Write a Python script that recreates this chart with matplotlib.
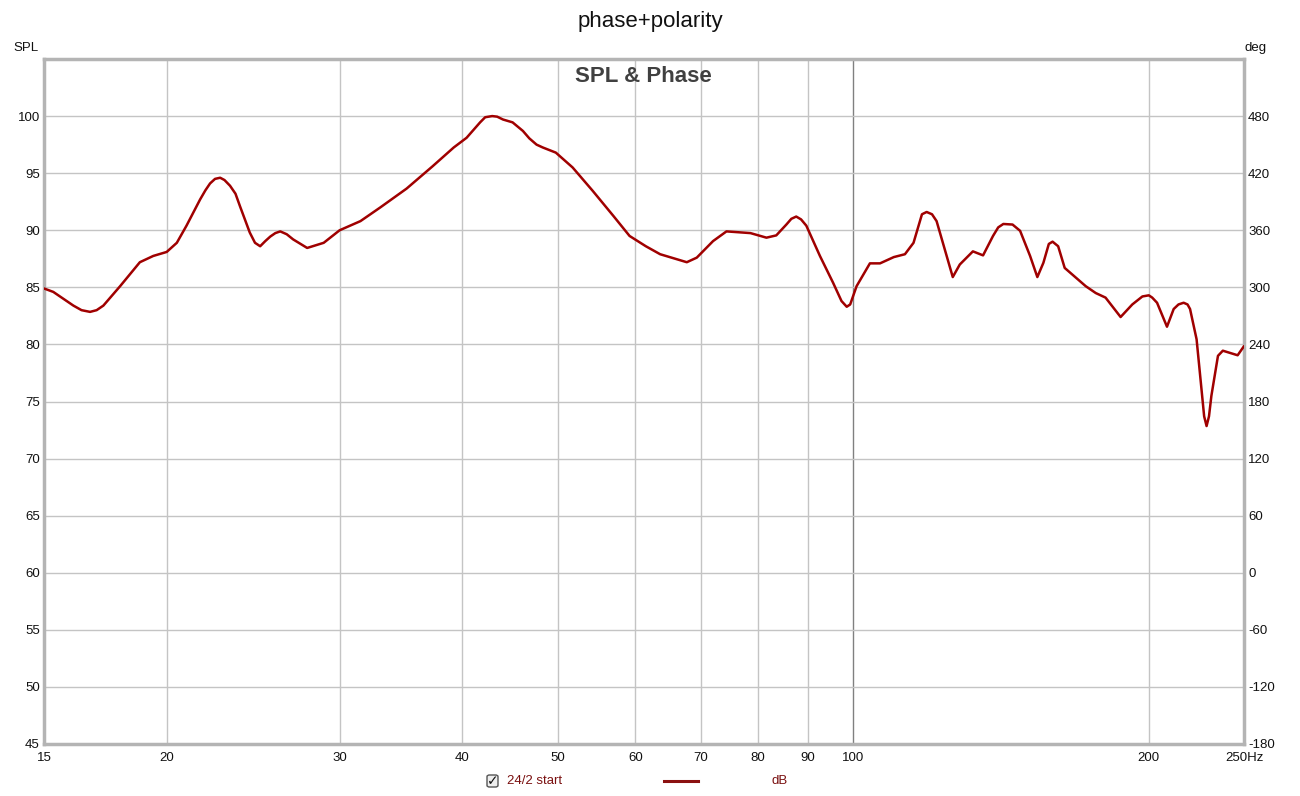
import matplotlib
matplotlib.use("Agg")
import matplotlib.pyplot as plt
from matplotlib.ticker import FixedLocator, FixedFormatter, NullLocator
from matplotlib.lines import Line2D
from matplotlib.patches import FancyBboxPatch

plt.rcParams["font.family"] = ["Liberation Sans", "DejaVu Sans"]

# ---- data ----
freq_hz = [15.0, 15.33, 16.07, 16.38, 16.71, 16.97, 17.24, 17.93, 18.78, 19.38,
           20.0, 20.48, 20.95, 21.63, 21.9, 22.14, 22.4, 22.67, 22.9, 23.2,
           23.5, 23.75, 24.3, 24.6, 24.9, 25.2, 25.5, 25.8, 26.1, 26.5,
           26.9, 27.8, 28.9, 30.0, 31.5, 33.0, 35.1, 37.3, 39.2, 40.4,
           41.7, 42.2, 42.9, 43.4, 44.0, 45.0, 46.1, 46.8, 47.6, 48.3,
           49.8, 51.8, 54.3, 57.0, 59.2, 61.5, 63.6, 67.7, 69.3, 72.0,
           74.3, 78.6, 81.6, 83.5, 85.5, 86.5, 87.5, 88.5, 89.6, 92.5,
           95.4, 97.3, 98.5, 99.3, 100.8, 104.0, 106.5, 110.0, 112.9, 115.2,
           117.5, 118.8, 120.3, 121.6, 126.3, 128.4, 132.4, 135.6, 138.8, 140.5,
           142.2, 145.3, 147.9, 151.4, 154.0, 156.2, 158.2, 159.6, 161.7, 164.2,
           172.5, 176.6, 180.7, 187.2, 192.4, 197.0, 200.0, 201.6, 203.9, 208.7,
           212.0, 214.4, 217.0, 219.0, 220.3, 223.7, 226.3, 227.7, 229.0, 230.3,
           231.6, 235.2, 237.9, 246.3, 250.0]
spl_db = [84.9, 84.6, 83.4, 83.0, 82.85, 83.0, 83.4, 85.1, 87.2, 87.75,
          88.1, 88.9, 90.4, 92.7, 93.5, 94.1, 94.5, 94.6, 94.4, 93.9,
          93.2, 92.1, 89.8, 88.9, 88.6, 89.05, 89.45, 89.75, 89.9, 89.65,
          89.2, 88.45, 88.9, 90.0, 90.8, 92.0, 93.65, 95.6, 97.25, 98.1,
          99.45, 99.9, 100.0, 99.95, 99.7, 99.45, 98.7, 98.05, 97.5, 97.25,
          96.8, 95.5, 93.45, 91.25, 89.5, 88.6, 87.9, 87.2, 87.6, 89.05,
          89.9, 89.75, 89.35, 89.55, 90.5, 91.0, 91.2, 90.95, 90.4, 87.75,
          85.4, 83.8, 83.3, 83.5, 85.1, 87.1, 87.1, 87.65, 87.9, 88.9,
          91.4, 91.6, 91.4, 90.8, 85.9, 87.0, 88.15, 87.8, 89.5, 90.25,
          90.55, 90.5, 89.95, 87.75, 85.9, 87.15, 88.8, 89.0, 88.6, 86.7,
          85.1, 84.5, 84.1, 82.4, 83.5, 84.2, 84.3, 84.1, 83.65, 81.55,
          83.1, 83.5, 83.65, 83.5, 83.1, 80.45, 76.05, 73.7, 72.85, 73.7,
          75.5, 79.0, 79.45, 79.05, 79.85]

x_ticks = [15, 20, 30, 40, 50, 60, 70, 80, 90, 100, 200, 250]
x_tick_labels = ["15", "20", "30", "40", "50", "60", "70", "80", "90", "100", "200", "250Hz"]
x_grid = [20, 30, 40, 50, 60, 70, 80, 90, 200]
spl_ticks = [45, 50, 55, 60, 65, 70, 75, 80, 85, 90, 95, 100]
deg_ticks = [-180, -120, -60, 0, 60, 120, 180, 240, 300, 360, 420, 480]

line_color = "#a00000"

fig = plt.figure(figsize=(13, 7.96), dpi=100)
ax = fig.add_axes([44/1300, 52/796, 1200/1300, 685/796])

ax.plot(freq_hz, spl_db, color=line_color, lw=1.8, solid_joinstyle="round",
        solid_capstyle="round", zorder=3)

ax.set_xscale("log")
ax.set_xlim(15, 250)
ax.set_ylim(45, 105)
ax.xaxis.set_major_locator(FixedLocator(x_ticks))
ax.xaxis.set_major_formatter(FixedFormatter(x_tick_labels))
ax.xaxis.set_minor_locator(NullLocator())
ax.set_yticks(spl_ticks)
ax.set_yticklabels([str(v) for v in spl_ticks])

for f in x_grid:
    ax.axvline(f, color="#c4c4c4", lw=1.0, zorder=1)
ax.axvline(100, color="#808080", lw=1.0, zorder=1)
for v in spl_ticks[1:]:
    ax.axhline(v, color="#c4c4c4", lw=1.0, zorder=1)

ax.tick_params(axis="both", length=0, labelsize=9.5, colors="#111111")
ax.tick_params(axis="x", pad=6)
ax.tick_params(axis="y", pad=3)

for s in ax.spines.values():
    s.set_color("#b4b4b4")
    s.set_linewidth(2.5)

ax2 = ax.twinx()
ax2.set_ylim((45 - 60) * 12, (105 - 60) * 12)
ax2.set_yticks(deg_ticks)
ax2.set_yticklabels([str(v) for v in deg_ticks])
ax2.tick_params(axis="y", length=0, labelsize=9.5, colors="#111111", pad=3)
for s in ax2.spines.values():
    s.set_visible(False)

fig.text(0.5, 1 - 22/796, "phase+polarity", ha="center", va="center", fontsize=16, color="#111111")
fig.text(643/1300, 1 - 76/796, "SPL & Phase", ha="center", va="center", fontsize=16,
         fontweight="bold", color="#404040")
fig.text(26/1300, 1 - 48/796, "SPL", ha="center", va="center", fontsize=9.5, color="#111111")
fig.text(1256/1300, 1 - 48/796, "deg", ha="center", va="center", fontsize=9.5, color="#111111")

# legend row: checkbox
cb = FancyBboxPatch((487/1300, 1 - 787/796), 11/1300, 12/796,
                    boxstyle="round,pad=0,rounding_size=0.002",
                    transform=fig.transFigure, facecolor="#eeeeee",
                    edgecolor="#555555", lw=1.0)
fig.add_artist(cb)
fig.text(492.5/1300, 1 - 781/796, "\u2713", ha="center", va="center", fontsize=10,
         color="#111111", family=["DejaVu Sans"], fontweight="bold")
fig.text(507/1300, 1 - 781/796, "24/2 start", ha="left", va="center", fontsize=9.5, color="#7a1010")
fig.add_artist(Line2D([664/1300, 698/1300], [1 - 781/796, 1 - 781/796],
                      color="#8b1010", lw=2.2, transform=fig.transFigure))
fig.text(771/1300, 1 - 781/796, "dB", ha="left", va="center", fontsize=9.5, color="#7a1010")

fig.savefig("out.png", dpi=100, facecolor="white")
